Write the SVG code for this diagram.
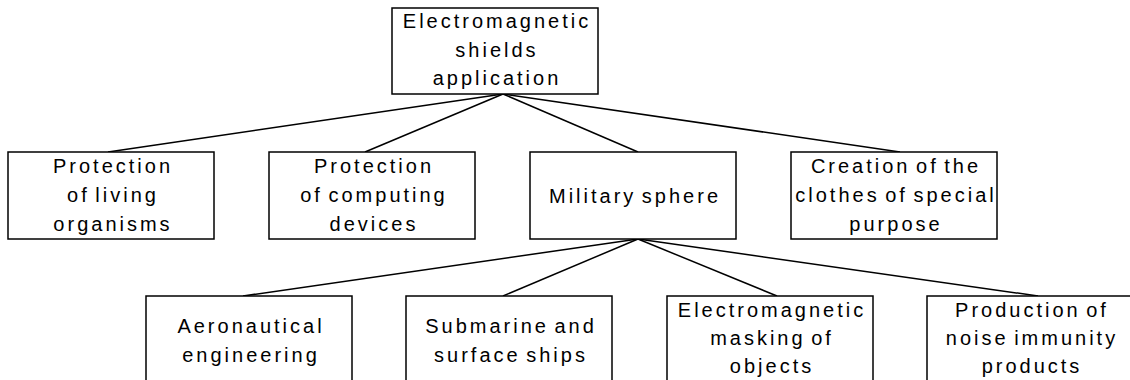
<svg xmlns="http://www.w3.org/2000/svg" width="1130" height="380" viewBox="0 0 1130 380">
<style>
rect.n{fill:#fff;stroke:#000;stroke-width:1.5}
text{font-family:"Liberation Sans",Arial,sans-serif;font-size:20px;letter-spacing:3px;word-spacing:-3px;text-anchor:middle;fill:#000}
.c line{stroke:#000;stroke-width:1.5}
</style>
<rect width="1130" height="380" fill="#fff"/>
<g class="c" id="connectors">
<line x1="503" y1="94" x2="108" y2="152"/>
<line x1="503" y1="94" x2="365" y2="152"/>
<line x1="503" y1="94" x2="638" y2="152"/>
<line x1="503" y1="94" x2="900" y2="152"/>
<line x1="638" y1="239" x2="243" y2="296"/>
<line x1="638" y1="239" x2="503" y2="296"/>
<line x1="638" y1="239" x2="777" y2="296"/>
<line x1="638" y1="239" x2="1038" y2="296"/>
</g>
<g id="root">
<rect class="n" x="392" y="8" width="206" height="86"/>
<text x="497" y="28">Electromagnetic</text>
<text x="497" y="57">shields</text>
<text x="497" y="85">application</text>
</g>
<g id="living">
<rect class="n" x="8" y="152" width="206" height="87"/>
<text x="113" y="173">Protection</text>
<text x="113" y="202">of living</text>
<text x="113" y="231">organisms</text>
</g>
<g id="computing">
<rect class="n" x="269" y="152" width="206" height="87"/>
<text x="374" y="173">Protection</text>
<text x="374" y="202">of computing</text>
<text x="374" y="231">devices</text>
</g>
<g id="military">
<rect class="n" x="530" y="152" width="206" height="87"/>
<text x="635" y="203">Military sphere</text>
</g>
<g id="clothes">
<rect class="n" x="791" y="152" width="206" height="87"/>
<text x="896" y="173">Creation of the</text>
<text x="896" y="202">clothes of special</text>
<text x="896" y="231">purpose</text>
</g>
<g id="aero">
<rect class="n" x="146" y="296" width="206" height="90"/>
<text x="251" y="333">Aeronautical</text>
<text x="251" y="362">engineering</text>
</g>
<g id="ships">
<rect class="n" x="406" y="296" width="206" height="90"/>
<text x="511" y="333">Submarine and</text>
<text x="511" y="362">surface ships</text>
</g>
<g id="masking">
<rect class="n" x="667" y="296" width="206" height="90"/>
<text x="772" y="317">Electromagnetic</text>
<text x="772" y="345">masking of</text>
<text x="772" y="373">objects</text>
</g>
<g id="noise">
<rect class="n" x="927" y="296" width="206" height="90"/>
<text x="1032" y="317">Production of</text>
<text x="1032" y="345">noise immunity</text>
<text x="1032" y="373">products</text>
</g>
</svg>
